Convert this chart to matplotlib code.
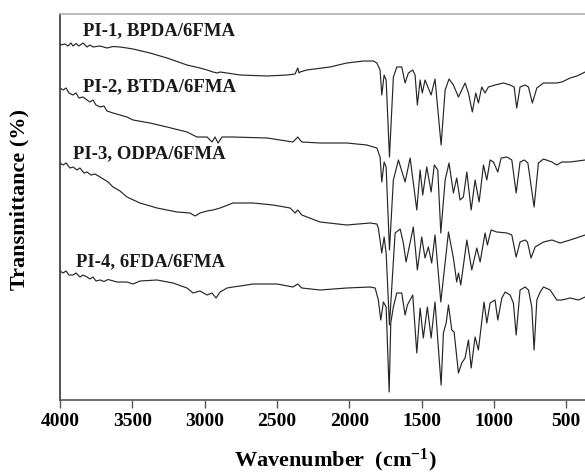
import matplotlib
matplotlib.use("Agg")
import matplotlib.pyplot as plt

# ---- data (wavenumber cm-1, relative transmittance, arbitrary units) ----
wn1 = [4000, 3965, 3945, 3924, 3910, 3889, 3869, 3841, 3813, 3793, 3772, 3723, 3675, 3633, 3585, 3537,
       3495, 3378, 3260, 3122, 3032, 2983, 2942, 2914, 2893, 2845, 2755, 2568, 2430, 2375, 2356, 2347,
       2340, 2294, 2133, 2017, 1902, 1833, 1809, 1787, 1775, 1759, 1745, 1722, 1695, 1671, 1637, 1614,
       1591, 1561, 1545, 1529, 1510, 1495, 1476, 1434, 1407, 1365, 1337, 1310, 1280, 1245, 1222, 1199,
       1176, 1149, 1125, 1107, 1084, 1061, 1038, 992, 934, 888, 860, 842, 819, 784, 761, 734, 703, 657,
       599, 565, 530, 473, 426, 369]
t1 = [355, 356, 354, 357, 354, 356.5, 354, 357, 353, 355, 353, 354, 352, 353.5, 353, 352,
      351, 347, 342, 335, 332, 330, 328, 327, 328, 327, 325, 324, 325, 326, 332, 327,
      328, 330, 333, 337, 339, 339, 337, 330, 305, 325, 320, 243, 323, 333, 333, 317,
      327, 330, 325, 295, 320, 307, 320, 305, 321, 255, 310, 321, 315, 303, 310, 317,
      307, 288, 307, 297, 313, 307, 313, 315, 317, 315, 313, 292, 313, 315, 313, 297, 312, 317,
      317, 317, 318, 322, 324, 328]

wn2 = [4000, 3979, 3958, 3938, 3910, 3889, 3869, 3841, 3813, 3793, 3772, 3751, 3723, 3696, 3675, 3633,
       3585, 3537, 3495, 3378, 3260, 3122, 3053, 2983, 2949, 2928, 2907, 2880, 2804, 2568, 2389, 2356,
       2328, 2202, 2017, 1879, 1809, 1787, 1775, 1759, 1745, 1722, 1695, 1660, 1614, 1579, 1533, 1510,
       1492, 1464, 1434, 1412, 1388, 1367, 1337, 1310, 1280, 1257, 1234, 1211, 1187, 1157, 1130, 1102,
       1072, 1049, 1026, 1003, 973, 950, 910, 876, 846, 819, 789, 765, 722, 692, 657, 599, 565, 530,
       473, 369]
t2 = [312, 310, 312, 307, 305, 307, 302, 303, 300, 298, 300, 295, 293, 294, 289, 287,
      285, 283, 280, 277, 273, 268, 263, 263, 258, 263, 257, 263, 263, 262, 258, 263,
      258, 257, 257, 255, 252, 243, 218, 238, 233, 150, 220, 240, 218, 242, 190, 230,
      205, 233, 208, 235, 230, 167, 220, 237, 207, 222, 200, 203, 228, 190, 220, 198,
      235, 220, 240, 238, 228, 242, 243, 240, 207, 238, 240, 237, 193, 237, 241, 238, 235, 238,
      238, 240]

wn3 = [4000, 3979, 3958, 3931, 3910, 3882, 3862, 3834, 3813, 3786, 3758, 3723, 3689, 3668, 3633, 3585,
       3537, 3447, 3329, 3191, 3101, 3066, 3032, 2983, 2942, 2893, 2804, 2665, 2527, 2409, 2375, 2356,
       2328, 2202, 2017, 1856, 1809, 1799, 1775, 1759, 1745, 1722, 1683, 1648, 1626, 1607, 1557, 1529,
       1499, 1476, 1453, 1430, 1407, 1367, 1314, 1280, 1257, 1245, 1229, 1187, 1153, 1118, 1095, 1061,
       1045, 1019, 980, 910, 876, 846, 819, 784, 768, 743, 715, 657, 599, 542, 473, 369]
t3 = [237, 235, 237, 232, 233, 230, 232, 227, 228, 225, 226, 223, 220, 218, 213, 209,
      203, 197, 192, 188, 187, 184, 187, 189, 190, 192, 197, 197, 195, 192, 187, 190,
      185, 178, 175, 177, 176, 172, 147, 163, 147, 75, 167, 171, 157, 138, 173, 130,
      163, 142, 153, 137, 165, 98, 168, 142, 118, 127, 115, 160, 130, 152, 138, 167,
      155, 170, 168, 167, 165, 143, 158, 160, 158, 142, 153, 158, 160, 157, 160, 165]

wn4 = [4000, 3979, 3958, 3938, 3910, 3889, 3862, 3841, 3813, 3793, 3772, 3751, 3723, 3696, 3668, 3606,
       3537, 3495, 3447, 3329, 3219, 3122, 3080, 3032, 2983, 2949, 2921, 2893, 2845, 2804, 2755, 2665,
       2499, 2389, 2356, 2328, 2202, 2017, 1856, 1821, 1799, 1782, 1764, 1745, 1724, 1713, 1695, 1671,
       1637, 1614, 1598, 1561, 1533, 1510, 1488, 1460, 1434, 1407, 1365, 1349, 1330, 1314, 1291, 1275,
       1245, 1222, 1199, 1176, 1157, 1130, 1107, 1068, 1049, 1026, 992, 973, 945, 922, 888, 865, 846,
       819, 784, 761, 738, 722, 703, 680, 657, 611, 565, 530, 473, 415, 369]
t4 = [129, 127, 129, 125, 125, 127, 123, 125, 123, 121, 123, 119, 120, 118.5, 120.5, 118,
      118, 116, 119, 120, 117, 112, 107, 109, 105, 107, 102, 108, 112, 113, 114, 116,
      116, 113, 116, 112, 110, 112, 113, 112, 100, 80, 98, 93, 8, 77, 93, 107,
      107, 85, 95, 105, 47, 92, 62, 93, 62, 98, 15, 67, 77, 95, 70, 68,
      27, 37, 42, 60, 32, 63, 50, 98, 77, 97, 100, 80, 102, 108, 105, 97, 65,
      110, 113, 110, 93, 50, 100, 108, 113, 110, 100, 100, 102, 100, 103]

series = [(wn1, t1), (wn2, t2), (wn3, t3), (wn4, t4)]
labels = ["PI-1, BPDA/6FMA", "PI-2, BTDA/6FMA", "PI-3, ODPA/6FMA", "PI-4, 6FDA/6FMA"]
label_x = [3841, 3841, 3910, 3889]
label_y = [369, 313, 246, 138]
xticks = [4000, 3500, 3000, 2500, 2000, 1500, 1000, 500]

# ---- plot ----
serif = "Liberation Serif"
plt.rcParams["mathtext.fontset"] = "custom"
plt.rcParams["mathtext.rm"] = "Liberation Serif:bold"
plt.rcParams["mathtext.bf"] = "Liberation Serif:bold"
plt.rcParams["mathtext.it"] = "Liberation Serif:bold"

fig = plt.figure(figsize=(5.85, 4.75), dpi=100)
ax = fig.add_axes([60 / 585, 1 - 400 / 475, 1 - 60 / 585, (400 - 14) / 475])

for wn, t in series:
    ax.plot(wn, t, color="#262626", lw=0.85)

for lab, lx, ly in zip(labels, label_x, label_y):
    ax.text(lx, ly, lab, fontfamily=serif, fontweight="bold", fontsize=13.5,
            ha="left", va="center", color="#1a1a1a")

ax.set_xlim(4000, 370)
ax.set_ylim(0, 386)
ax.set_xticks(xticks)
ax.set_xticklabels([str(v) for v in xticks], fontfamily=serif, fontweight="bold", fontsize=14)
ax.set_yticks([])
ax.tick_params(axis="x", direction="out", length=6, width=1, color="#555555", pad=3)

ax.spines["right"].set_visible(False)
ax.spines["top"].set_color("#b0b0b0")
ax.spines["left"].set_color("#333333")
ax.spines["bottom"].set_color("#555555")
for s in ("top", "left", "bottom"):
    ax.spines[s].set_linewidth(1.2)

ax.set_xlabel("Wavenumber  (cm$^{-1}$)", fontfamily=serif, fontweight="bold", fontsize=16)
ax.xaxis.set_label_coords(0.525, -0.12)
ax.set_ylabel("Transmittance (%)", fontfamily=serif, fontweight="bold", fontsize=16)
ax.yaxis.set_label_coords(-0.058, 0.52)

fig.savefig("out.png", dpi=100)
